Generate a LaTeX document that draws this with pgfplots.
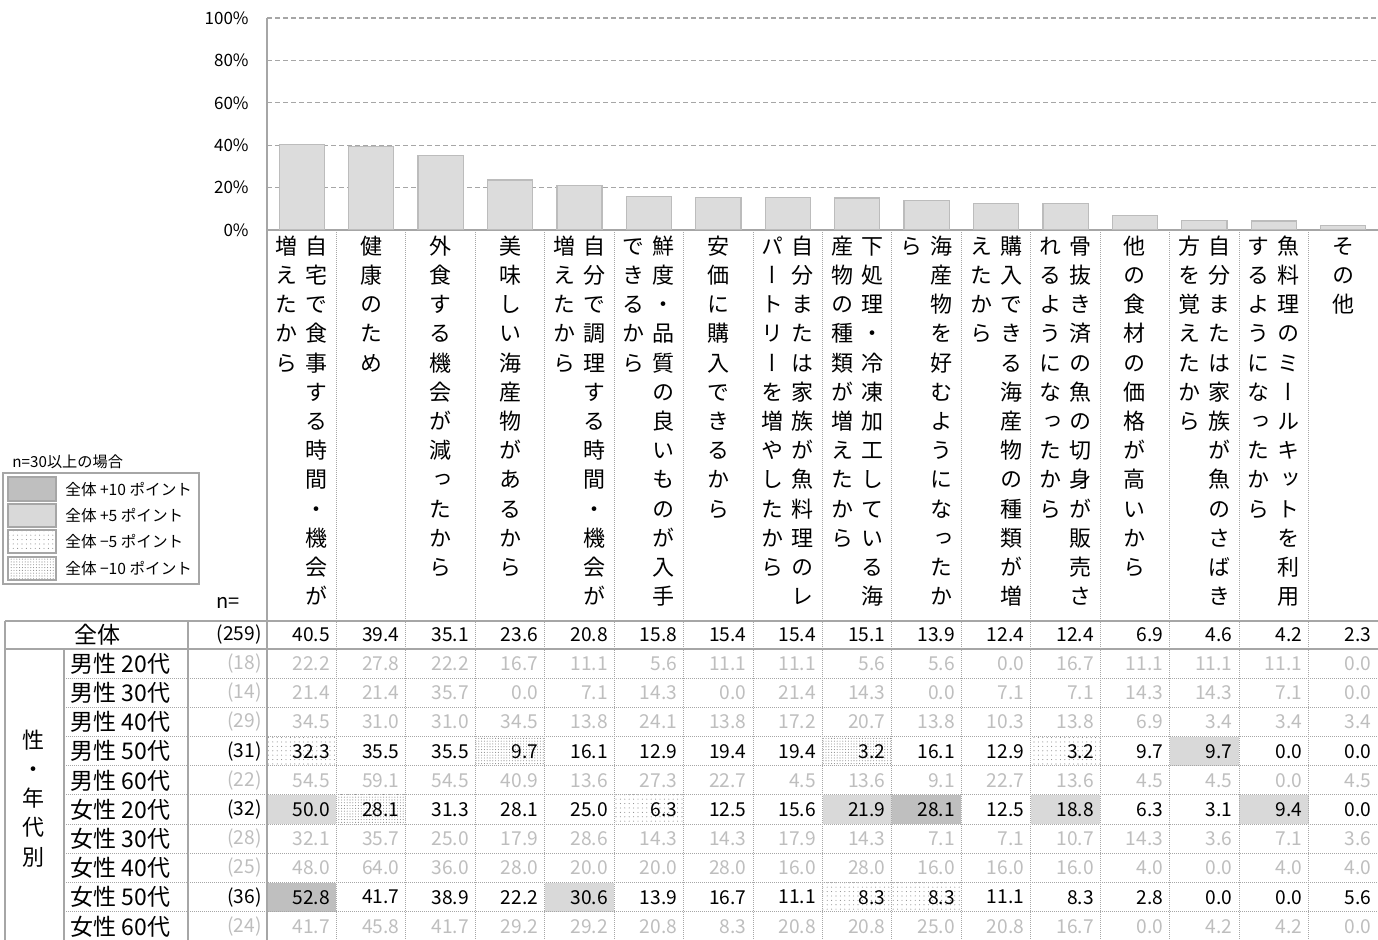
\documentclass[border=0pt]{standalone}
\usepackage{fontspec}
\setmainfont{Noto Sans CJK JP}
\newfontfamily\vertfont{Noto Sans CJK JP}[RawFeature=+vert]
\usepackage{pgfplots}
\usepackage{pgfplotstable}
\pgfplotsset{compat=1.18}
\usetikzlibrary{patterns.meta}

\definecolor{ltxt}{RGB}{190,190,190}
\definecolor{gridc}{RGB}{166,166,166}
\definecolor{barfill}{RGB}{220,220,220}
\definecolor{baredge}{RGB}{188,188,188}
\definecolor{plusten}{RGB}{191,191,191}
\definecolor{plusfive}{RGB}{217,217,217}
\definecolor{dotc}{RGB}{140,140,140}

\ExplSyntaxOn
\NewDocumentCommand\vcol{m}{
  \vtop{\offinterlineskip
    \tl_map_inline:nn {#1} {\hbox_to_wd:nn{15pt}{\hss\vrule~height~10.5pt~depth~4.1pt~width~0pt\relax ##1\hss}}}}
\ExplSyntaxOff
\newcommand\vlab[2]{\hbox{\vcol{#2}\vcol{#1}}}
\newcommand\numfont{\fontsize{9.6pt}{11pt}\selectfont}

% c = category; r0 = 全体; r1..r10 = 男性20代..女性60代
\pgfplotstableread{
c  r0   r1   r2   r3   r4   r5   r6   r7   r8   r9   r10
1  40.5 22.2 21.4 34.5 32.3 54.5 50.0 32.1 48.0 52.8 41.7
2  39.4 27.8 21.4 31.0 35.5 59.1 28.1 35.7 64.0 41.7 45.8
3  35.1 22.2 35.7 31.0 35.5 54.5 31.3 25.0 36.0 38.9 41.7
4  23.6 16.7 0.0  34.5 9.7  40.9 28.1 17.9 28.0 22.2 29.2
5  20.8 11.1 7.1  13.8 16.1 13.6 25.0 28.6 20.0 30.6 29.2
6  15.8 5.6  14.3 24.1 12.9 27.3 6.3  14.3 20.0 13.9 20.8
7  15.4 11.1 0.0  13.8 19.4 22.7 12.5 14.3 28.0 16.7 8.3
8  15.4 11.1 21.4 17.2 19.4 4.5  15.6 17.9 16.0 11.1 20.8
9  15.1 5.6  14.3 20.7 3.2  13.6 21.9 14.3 28.0 8.3  20.8
10 13.9 5.6  0.0  13.8 16.1 9.1  28.1 7.1  16.0 8.3  25.0
11 12.4 0.0  7.1  10.3 12.9 22.7 12.5 7.1  16.0 11.1 20.8
12 12.4 16.7 7.1  13.8 3.2  13.6 18.8 10.7 16.0 8.3  16.7
13 6.9  11.1 14.3 6.9  9.7  4.5  6.3  14.3 4.0  2.8  0.0
14 4.6  11.1 14.3 3.4  9.7  4.5  3.1  3.6  0.0  0.0  4.2
15 4.2  11.1 7.1  3.4  0.0  0.0  9.4  7.1  4.0  0.0  4.2
16 2.3  0.0  0.0  3.4  0.0  4.5  0.0  3.6  4.0  5.6  0.0
}\tab

\pgfplotsset{
  rowtxt/.style={draw=none, mark=none, nodes near coords, point meta=explicit symbolic,
    every node near coord/.append style={anchor=east, inner sep=0pt, xshift=14.3pt, font=\numfont, text=#1}},
}
\tikzset{
  solidg/.style={draw=gridc, line width=1pt},
  dotg/.style={draw=gridc, line width=0.5pt, dash pattern=on 0.5pt off 0.5pt},
  mfive/.style={pattern={Dots[distance=2.2pt,radius=0.28pt]}, pattern color=dotc},
  mten/.style={pattern={Dots[distance=1.4pt,radius=0.28pt]}, pattern color=dotc},
}

\begin{document}
\begin{tikzpicture}
\begin{axis}[name=tab, at={(0pt,0pt)}, anchor=south west, scale only axis,
  width=689pt, height=470pt, xmin=-3.3452, xmax=16.5, ymin=0, ymax=940,
  y dir=reverse, hide axis, clip=false]
  % cell shading: +10
  \fill[plusten] (axis cs:0.5,882.6) rectangle (axis cs:1.5,911.8);
  \fill[plusten] (axis cs:9.5,795) rectangle (axis cs:10.5,824.2);
  % +5
  \fill[plusfive] (axis cs:0.5,795) rectangle (axis cs:1.5,824.2);
  \fill[plusfive] (axis cs:4.5,882.6) rectangle (axis cs:5.5,911.8);
  \fill[plusfive] (axis cs:8.5,795) rectangle (axis cs:9.5,824.2);
  \fill[plusfive] (axis cs:11.5,795) rectangle (axis cs:12.5,824.2);
  \fill[plusfive] (axis cs:13.5,736.6) rectangle (axis cs:14.5,765.8);
  \fill[plusfive] (axis cs:14.5,795) rectangle (axis cs:15.5,824.2);
  % -5
  \fill[mfive] (axis cs:0.5,736.6) rectangle (axis cs:1.5,765.8);
  \fill[mfive] (axis cs:5.5,795) rectangle (axis cs:6.5,824.2);
  \fill[mfive] (axis cs:8.5,882.6) rectangle (axis cs:9.5,911.8);
  \fill[mfive] (axis cs:9.5,882.6) rectangle (axis cs:10.5,911.8);
  \fill[mfive] (axis cs:11.5,736.6) rectangle (axis cs:12.5,765.8);
  % -10
  \fill[mten] (axis cs:1.5,795) rectangle (axis cs:2.5,824.2);
  \fill[mten] (axis cs:3.5,736.6) rectangle (axis cs:4.5,765.8);
  \fill[mten] (axis cs:8.5,736.6) rectangle (axis cs:9.5,765.8);

  % column separators
  \pgfplotsinvokeforeach{1,...,15}{\draw[dotg] (axis cs:#1.5,232) -- (axis cs:#1.5,940);}
  % row separators
  \pgfplotsinvokeforeach{678.2,707.4,736.6,765.8,795.0,824.2,853.4,882.6,911.8}{
    \draw[dotg] (axis cs:-2.4235,#1) -- (axis cs:16.5,#1);}
  % solid borders
  \draw[solidg] (axis cs:-3.273,621) -- (axis cs:16.5,621);
  \draw[solidg] (axis cs:-3.273,649) -- (axis cs:16.5,649);
  \draw[solidg] (axis cs:-3.273,621) -- (axis cs:-3.273,940);
  \draw[solidg] (axis cs:-2.4235,649) -- (axis cs:-2.4235,940);
  \draw[solidg] (axis cs:-0.638,621) -- (axis cs:-0.638,940);
  \draw[solidg] (axis cs:0.5,230) -- (axis cs:0.5,940);

  % values
  \addplot[rowtxt=black] table[x=c, y expr=635,   meta=r0]  {\tab};
  \addplot[rowtxt=ltxt]  table[x=c, y expr=663.6, meta=r1]  {\tab};
  \addplot[rowtxt=ltxt]  table[x=c, y expr=692.8, meta=r2]  {\tab};
  \addplot[rowtxt=ltxt]  table[x=c, y expr=722.0, meta=r3]  {\tab};
  \addplot[rowtxt=black] table[x=c, y expr=751.2, meta=r4]  {\tab};
  \addplot[rowtxt=ltxt]  table[x=c, y expr=780.4, meta=r5]  {\tab};
  \addplot[rowtxt=black] table[x=c, y expr=809.6, meta=r6]  {\tab};
  \addplot[rowtxt=ltxt]  table[x=c, y expr=838.8, meta=r7]  {\tab};
  \addplot[rowtxt=ltxt]  table[x=c, y expr=868.0, meta=r8]  {\tab};
  \addplot[rowtxt=black] table[x=c, y expr=897.2, meta=r9]  {\tab};
  \addplot[rowtxt=ltxt]  table[x=c, y expr=926.4, meta=r10] {\tab};

  % n column
  \begin{scope}[every node/.style={anchor=east, inner sep=0pt, font=\numfont}]
  \node[text=black] at (axis cs:0.428,635)   {(259)};
  \node[text=ltxt]  at (axis cs:0.428,663.6) {(18)};
  \node[text=ltxt]  at (axis cs:0.428,692.8) {(14)};
  \node[text=ltxt]  at (axis cs:0.428,722.0) {(29)};
  \node[text=black] at (axis cs:0.428,751.2) {(31)};
  \node[text=ltxt]  at (axis cs:0.428,780.4) {(22)};
  \node[text=black] at (axis cs:0.428,809.6) {(32)};
  \node[text=ltxt]  at (axis cs:0.428,838.8) {(28)};
  \node[text=ltxt]  at (axis cs:0.428,868.0) {(25)};
  \node[text=black] at (axis cs:0.428,897.2) {(36)};
  \node[text=ltxt]  at (axis cs:0.428,926.4) {(24)};
  \end{scope}

  % row labels
  \begin{scope}[every node/.style={anchor=west, inner sep=0pt, font=\fontsize{11.5pt}{13pt}\selectfont}]
  \node at (axis cs:-2.337,663.6) {男性 20代};
  \node at (axis cs:-2.337,692.8) {男性 30代};
  \node at (axis cs:-2.337,722.0) {男性 40代};
  \node at (axis cs:-2.337,751.2) {男性 50代};
  \node at (axis cs:-2.337,780.4) {男性 60代};
  \node at (axis cs:-2.337,809.6) {女性 20代};
  \node at (axis cs:-2.337,838.8) {女性 30代};
  \node at (axis cs:-2.337,868.0) {女性 40代};
  \node at (axis cs:-2.337,897.2) {女性 50代};
  \node at (axis cs:-2.337,926.4) {女性 60代};
  \end{scope}
  \node[inner sep=0pt, font=\fontsize{11.5pt}{13pt}\selectfont] at (axis cs:-1.948,635) {全体};
  \node[anchor=north, inner sep=0pt, font=\vertfont\fontsize{11pt}{14pt}\selectfont] at (axis cs:-2.856,727) {\vcol{性・年代別}};
  \node[inner sep=0pt, font=\fontsize{10pt}{12pt}\selectfont] at (axis cs:-0.0617,603) {n=};

  % legend for shading
  \draw[gridc, line width=1pt] (axis cs:-3.302,473) rectangle (axis cs:-0.479,584);
  \node[anchor=west, inner sep=0pt, font=\fontsize{7.6pt}{9pt}\selectfont] at (axis cs:-3.172,462) {n=30以上の場合};
  \draw[gridc, line width=0.8pt, fill=plusten] (axis cs:-3.23,477) rectangle (axis cs:-2.539,501);
  \draw[gridc, line width=0.8pt, fill=plusfive] (axis cs:-3.23,504) rectangle (axis cs:-2.539,527);
  \draw[gridc, line width=0.8pt, mfive] (axis cs:-3.23,530) rectangle (axis cs:-2.539,553);
  \draw[gridc, line width=0.8pt, mten] (axis cs:-3.23,557) rectangle (axis cs:-2.539,580);
  \begin{scope}[every node/.style={anchor=west, inner sep=0pt, font=\fontsize{7.8pt}{9pt}\selectfont}]
  \node at (axis cs:-2.409,489)   {全体 +10 ポイント};
  \node at (axis cs:-2.409,515.5) {全体 +5 ポイント};
  \node at (axis cs:-2.409,541.5) {全体 −5 ポイント};
  \node at (axis cs:-2.409,568.5) {全体 −10 ポイント};
  \end{scope}
\end{axis}

\begin{axis}[at={(133.5pt,355pt)}, anchor=south west, scale only axis,
  width=555.5pt, height=106pt, xmin=0.5, xmax=16.5, ymin=0, ymax=100,
  axis lines*=left, axis line style={-, draw=gridc, line width=0.8pt},
  ytick={0,20,...,100}, yticklabels={0\%,20\%,40\%,60\%,80\%,100\%},
  yticklabel style={font=\fontsize{8.5pt}{10pt}\selectfont, inner sep=0pt, xshift=-9pt},
  major tick length=0pt,
  ymajorgrids, major grid style={draw=gridc, dash pattern=on 2.5pt off 1.5pt, line width=0.6pt},
  xtick={1,...,16},
  xticklabels={
    {\vlab{自宅で食事する時間・機会が}{増えたから}},
    {\vlab{健康のため}{}},
    {\vlab{外食する機会が減ったから}{}},
    {\vlab{美味しい海産物があるから}{}},
    {\vlab{自分で調理する時間・機会が}{増えたから}},
    {\vlab{鮮度・品質の良いものが入手}{できるから}},
    {\vlab{安価に購入できるから}{}},
    {\vlab{自分または家族が魚料理のレ}{パートリーを増やしたから}},
    {\vlab{下処理・冷凍加工している海}{産物の種類が増えたから}},
    {\vlab{海産物を好むようになったか}{ら}},
    {\vlab{購入できる海産物の種類が増}{えたから}},
    {\vlab{骨抜き済の魚の切身が販売さ}{れるようになったから}},
    {\vlab{他の食材の価格が高いから}{}},
    {\vlab{自分または家族が魚のさばき}{方を覚えたから}},
    {\vlab{魚料理のミールキットを利用}{するようになったから}},
    {\vlab{その他}{}}},
  xticklabel style={anchor=north, inner sep=0pt, yshift=-1.5pt, font=\vertfont\fontsize{11pt}{14pt}\selectfont}]
  \addplot[ybar, bar width=0.65, fill=barfill, draw=baredge, line width=0.6pt] table[x=c, y=r0] {\tab};
\end{axis}
\pgfresetboundingbox
\path (0pt,0pt) rectangle (689pt,470pt);
\end{tikzpicture}
\end{document}
